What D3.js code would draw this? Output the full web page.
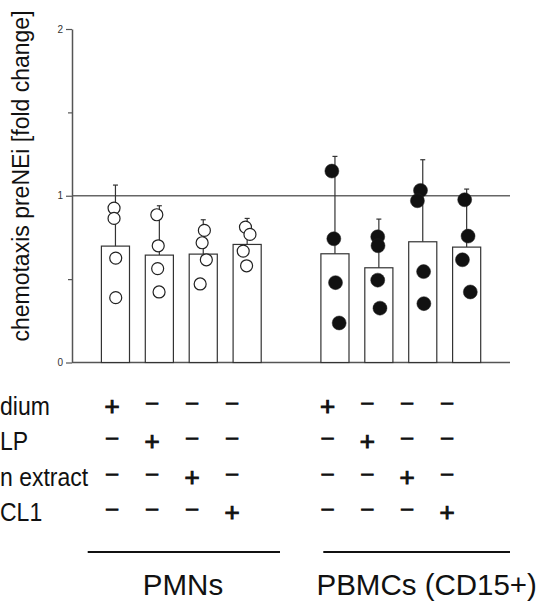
<!DOCTYPE html>
<html>
<head>
<meta charset="utf-8">
<script src="https://cdn.jsdelivr.net/npm/d3@7"></script>
<style>
  body { margin: 0; background: #fff; }
  svg { display: block; font-family: "Liberation Sans", Arial, sans-serif; }
</style>
</head>
<body>
<script>
// data
const groups = ["PMNs", "PBMCs (CD15+)"];
const rowLabels = ["dium", "LP", "n extract", "CL1"];
const signs = [
  ["+", "–", "–", "–"],
  ["–", "+", "–", "–"],
  ["–", "–", "+", "–"],
  ["–", "–", "–", "+"]
];
const pmnMeans = [0.698, 0.644, 0.65, 0.708];
const pmnSD = [0.366, 0.296, 0.206, 0.156];
const pmnPoints = [
  [0.926, 0.864, 0.626, 0.389],
  [0.886, 0.70, 0.563, 0.423],
  [0.792, 0.718, 0.616, 0.471],
  [0.812, 0.768, 0.668, 0.58]
];
const pbmcMeans = [0.652, 0.568, 0.724, 0.692];
const pbmcSD = [0.584, 0.292, 0.492, 0.348];
const pbmcPoints = [
  [1.148, 0.742, 0.479, 0.237],
  [0.754, 0.70, 0.494, 0.326],
  [1.032, 0.97, 0.545, 0.353],
  [0.976, 0.758, 0.616, 0.423]
];
// horizontal scatter of the dots, as a fraction of bar width
const pmnJitter = [
  [-0.05, -0.05, 0.01, 0.01],
  [-0.09, -0.04, -0.06, -0.01],
  [0.04, -0.04, 0.11, -0.11],
  [-0.06, 0.10, -0.14, -0.02]
];
const pbmcJitter = [
  [-0.11, -0.04, 0.02, 0.15],
  [-0.04, -0.03, -0.04, 0.04],
  [-0.08, -0.19, 0.03, 0.04],
  [-0.07, 0.05, -0.15, 0.13]
];
const yTicks = [0, 0.5, 1, 1.5, 2];

const W = 548, H = 602;
const svg = d3.select("body").append("svg")
  .attr("width", W).attr("height", H)
  .attr("viewBox", [0, 0, W, H]);

const slots = ["p0", "p1", "p2", "p3", "gap", "b0", "b1", "b2", "b3"];
const x = d3.scaleBand().domain(slots).range([93.5, 488.6])
  .paddingInner(0.36).paddingOuter(0.18);
const y = d3.scaleLinear().domain([0, 2]).range([362.5, 29]);

const bars = [];
pmnMeans.forEach((m, i) => bars.push({slot: "p" + i, mean: m, sd: pmnSD[i], pts: pmnPoints[i], jit: pmnJitter[i], filled: false}));
pbmcMeans.forEach((m, i) => bars.push({slot: "b" + i, mean: m, sd: pbmcSD[i], pts: pbmcPoints[i], jit: pbmcJitter[i], filled: true}));

const axisColor = "#555";

// reference line at 1
svg.append("line")
  .attr("x1", 72).attr("x2", 510)
  .attr("y1", y(1)).attr("y2", y(1))
  .attr("stroke", "#666").attr("stroke-width", 1.5);

// x axis line
svg.append("line")
  .attr("x1", 72).attr("x2", 510)
  .attr("y1", y(0)).attr("y2", y(0))
  .attr("stroke", axisColor).attr("stroke-width", 1.5);

// y axis
const yAxis = svg.append("g")
  .attr("transform", "translate(72,0)")
  .call(d3.axisLeft(y).tickValues(yTicks).tickSize(6).tickSizeOuter(0).tickPadding(3)
    .tickFormat(d => Number.isInteger(d) ? d : ""));
yAxis.select(".domain").attr("stroke", axisColor).attr("stroke-width", 1.5);
yAxis.selectAll(".tick line").attr("stroke", axisColor).attr("stroke-width", 1.2)
  .attr("x2", d => Number.isInteger(d) ? -6 : -4);
yAxis.selectAll(".tick text").attr("font-size", 10).attr("fill", "#333")
  .attr("font-family", "Liberation Sans, Arial, sans-serif");

// y label
svg.append("text")
  .attr("transform", `translate(29,176) rotate(-90)`)
  .attr("text-anchor", "middle")
  .attr("font-size", 23)
  .attr("fill", "#111")
  .text("chemotaxis preNEi [fold change]");

// bars
svg.selectAll(".bar")
  .data(bars)
  .enter()
  .append("rect")
  .attr("class", "bar")
  .attr("x", d => x(d.slot))
  .attr("y", d => y(d.mean))
  .attr("width", x.bandwidth())
  .attr("height", d => y(0) - y(d.mean))
  .attr("fill", "#fff")
  .attr("stroke", "#333")
  .attr("stroke-width", 1.2);

// error bars
const cx = d => x(d.slot) + x.bandwidth() / 2;
svg.selectAll(".err")
  .data(bars)
  .enter()
  .append("line")
  .attr("class", "err")
  .attr("x1", cx).attr("x2", cx)
  .attr("y1", d => y(d.mean)).attr("y2", d => y(d.mean + d.sd))
  .attr("stroke", "#333").attr("stroke-width", 1.2);
svg.selectAll(".cap")
  .data(bars)
  .enter()
  .append("line")
  .attr("class", "cap")
  .attr("x1", d => cx(d) - 2.5).attr("x2", d => cx(d) + 2.5)
  .attr("y1", d => y(d.mean + d.sd)).attr("y2", d => y(d.mean + d.sd))
  .attr("stroke", "#333").attr("stroke-width", 1.2);

// dots
const dots = bars.flatMap(b => b.pts.map((v, j) => ({slot: b.slot, v: v, jit: b.jit[j], filled: b.filled})));
svg.selectAll(".dot")
  .data(dots)
  .enter()
  .append("circle")
  .attr("class", "dot")
  .attr("cx", d => x(d.slot) + x.bandwidth() * (0.5 + d.jit))
  .attr("cy", d => y(d.v))
  .attr("r", d => d.filled ? 7 : 6)
  .attr("fill", d => d.filled ? "#111" : "#fff")
  .attr("stroke", "#222")
  .attr("stroke-width", d => d.filled ? 0.5 : 1.2);

// treatment table
const rowY = d3.scalePoint().domain(d3.range(4)).range([415, 521]);
const signX = [
  d3.scalePoint().domain(d3.range(4)).range([112, 232]),
  d3.scalePoint().domain(d3.range(4)).range([327.5, 447])
];

svg.selectAll(".rowlab")
  .data(rowLabels)
  .enter()
  .append("text")
  .attr("class", "rowlab")
  .attr("transform", (d, i) => `translate(0,${rowY(i)}) scale(0.92,1)`)
  .attr("font-size", 25)
  .attr("fill", "#111")
  .text(d => d);

const signCells = [];
signs.forEach((row, r) => groups.forEach((g, gi) => row.forEach((s, c) => signCells.push({r, gi, c, s}))));
svg.selectAll(".sign")
  .data(signCells)
  .enter()
  .append("text")
  .attr("class", "sign")
  .attr("x", d => signX[d.gi](d.c))
  .attr("y", d => d.s === "+" ? rowY(d.r) : rowY(d.r) - 6)
  .attr("text-anchor", "middle")
  .attr("font-size", d => d.s === "+" ? 26 : 21)
  .attr("fill", "#111")
  .attr("stroke", "#111")
  .attr("stroke-width", 1)
  .text(d => d.s);

// group brackets and names
const groupSpan = [[87.7, 280], [323.3, 510]];
svg.selectAll(".gline")
  .data(groups)
  .enter()
  .append("line")
  .attr("x1", (d, i) => groupSpan[i][0]).attr("x2", (d, i) => groupSpan[i][1])
  .attr("y1", 552).attr("y2", 552)
  .attr("stroke", "#111").attr("stroke-width", 2);
svg.selectAll(".gname")
  .data(groups)
  .enter()
  .append("text")
  .attr("x", (d, i) => (i === 0 ? 183 : 426.7))
  .attr("y", 595)
  .attr("text-anchor", "middle")
  .attr("font-size", 29.5)
  .attr("fill", "#111")
  .text(d => d);
</script>
</body>
</html>
